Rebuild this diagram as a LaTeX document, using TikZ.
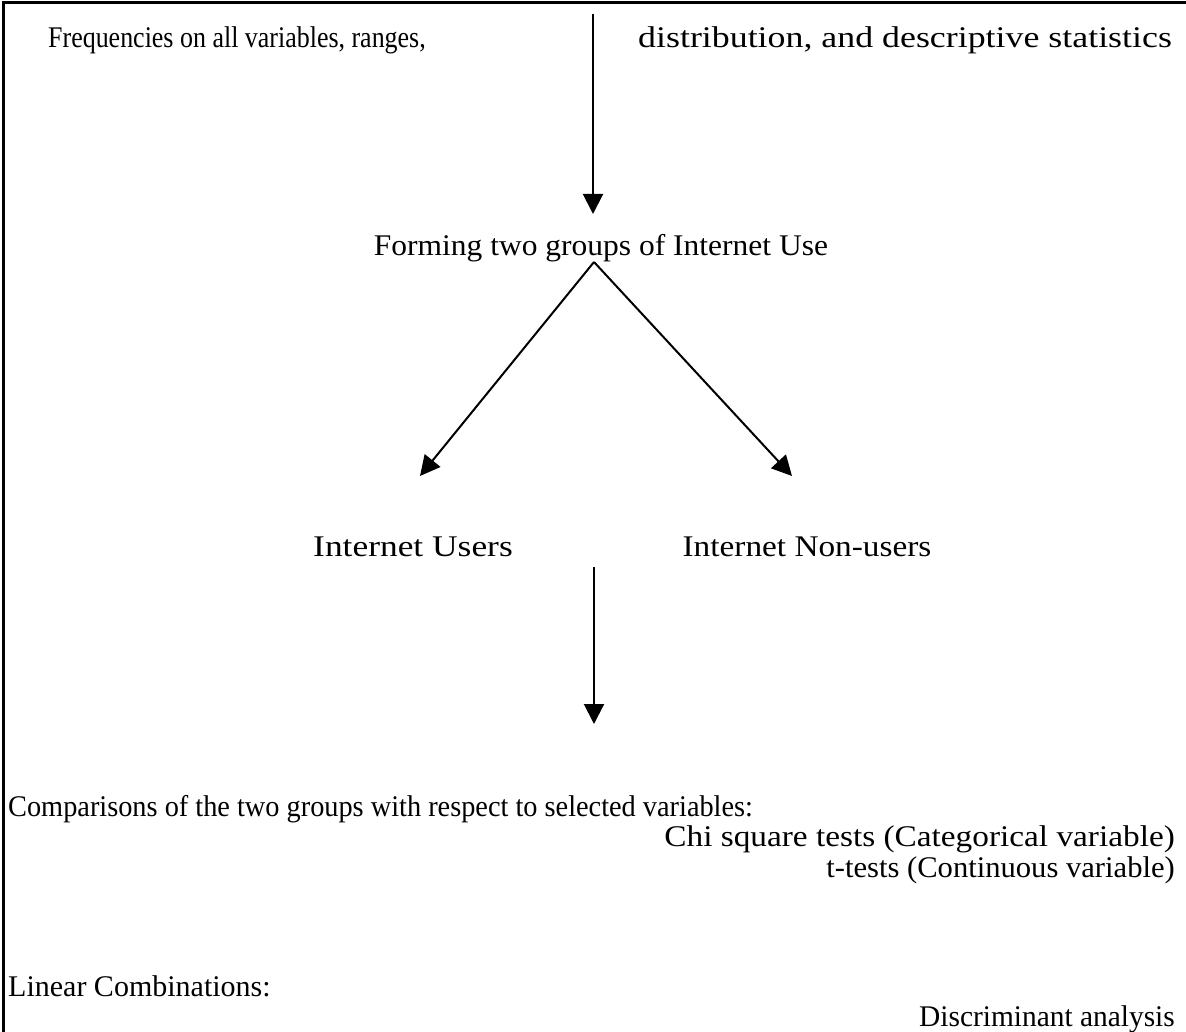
\documentclass[tikz,border=0pt]{standalone}
\usepackage{fontspec}
\setmainfont{Liberation Serif}
\usetikzlibrary{arrows.meta}
\tikzset{
  lbl/.style={inner sep=0pt, font=\fontsize{30}{34}\selectfont},
  conn/.style={line width=2pt, -{Triangle[width=20pt,length=20pt]}},
  frame/.style={line width=3pt}
}
\newcommand{\sx}[2]{\scalebox{#1}[1]{#2}}
\begin{document}
\begin{tikzpicture}[x=1pt,y=-1pt]
\useasboundingbox (0,0) rectangle (1186,1032);
\draw[frame] (3,1032) -- (3,3) -- (1186,3);
\node[lbl, anchor=base west] (freq) at (48,48) {\sx{0.865}{Frequencies on all variables, ranges,}};
\node[lbl, anchor=base west] (distr) at (638,48) {\sx{1.195}{distribution, and descriptive statistics}};
\node[lbl, anchor=base] (forming) at (601,256) {\sx{1.05}{Forming two groups of Internet Use}};
\node[lbl, anchor=base] (users) at (413,556) {\sx{1.18}{Internet Users}};
\node[lbl, anchor=base] (nonusers) at (807,556) {\sx{1.11}{Internet Non-users}};
\node[lbl, anchor=base west] (comp) at (8,816) {\sx{0.944}{Comparisons of the two groups with respect to selected variables:}};
\node[lbl, anchor=base east] (chi) at (1175,846) {\sx{1.11}{Chi square tests (Categorical variable)}};
\node[lbl, anchor=base east] (ttest) at (1175,877) {\sx{1.02}{t-tests (Continuous variable)}};
\node[lbl, anchor=base west] (lin) at (8,996) {Linear Combinations:};
\node[lbl, anchor=base east] (disc) at (1175,1026) {\sx{0.98}{Discriminant analysis}};
\coordinate (a1s) at (593,14);
\coordinate (a1e) at (593,214);
\coordinate (apex) at (594,262);
\coordinate (lt) at (420,476);
\coordinate (rt) at (792,476);
\coordinate (a2s) at (594,567);
\coordinate (a2e) at (594,724);
\draw[conn] (a1s) -- (a1e);
\draw[conn] (apex) -- (lt);
\draw[conn] (apex) -- (rt);
\draw[conn] (a2s) -- (a2e);
\end{tikzpicture}
\end{document}
